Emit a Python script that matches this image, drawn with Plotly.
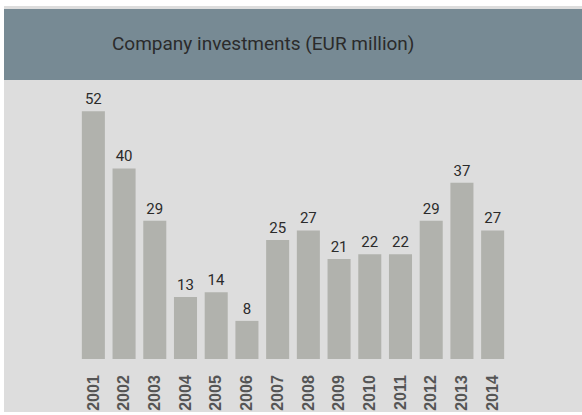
import plotly.graph_objects as go

years = ["2001", "2002", "2003", "2004", "2005", "2006", "2007",
         "2008", "2009", "2010", "2011", "2012", "2013", "2014"]
investments = [52, 40, 29, 13, 14, 8, 25, 27, 21, 22, 22, 29, 37, 27]
title_text = "Company investments (EUR million)"

W, H = 582, 415
L, R, T, B = 78, 74, 97, 56
pw, ph = W - L - R, H - T - B


def px_x(px):
    return (px - L) / pw


def px_y(py):
    return (H - B - py) / ph


COND = "Roboto, Liberation Sans, sans-serif"

fig = go.Figure(go.Bar(
    x=years, y=investments,
    marker=dict(color="#b1b2ad", line=dict(width=0)),
    width=0.75,
    text=[str(v) for v in investments],
    textposition="outside",
    textfont=dict(family=COND, size=15, color="#2b2b2b"),
    cliponaxis=False,
    hoverinfo="skip",
))

fig.update_layout(
    width=W, height=H,
    margin=dict(l=L, r=R, t=T, b=B, autoexpand=False),
    paper_bgcolor="white",
    plot_bgcolor="rgba(0,0,0,0)",
    showlegend=False,
    shapes=[
        dict(type="rect", xref="paper", yref="paper", layer="below",
             x0=px_x(4), x1=px_x(600), y0=px_y(412), y1=px_y(6),
             fillcolor="#dddddd", line=dict(width=0)),
        dict(type="rect", xref="paper", yref="paper", layer="below",
             x0=px_x(4), x1=px_x(600), y0=px_y(80), y1=px_y(9),
             fillcolor="#778a94", line=dict(width=0)),
    ],
    annotations=[
        dict(text=title_text, xref="paper", yref="paper",
             x=px_x(263), y=px_y(44), xanchor="center", yanchor="middle",
             showarrow=False,
             font=dict(family=COND, size=19, color="#2b2b2b")),
    ],
    xaxis=dict(
        type="category", range=[-0.5, 13.5], automargin=False,
        showgrid=False, zeroline=False, showline=False,
        tickangle=-90, ticks="", ticklabelstandoff=12,
        tickfont=dict(family="Liberation Sans, Arial, sans-serif", size=16, color="#555555", weight="bold"),
        fixedrange=True,
    ),
    yaxis=dict(
        range=[0, 55], visible=False, showgrid=False, zeroline=False,
        fixedrange=True, automargin=False,
    ),
)

fig.write_html("out.html", config={"displayModeBar": False},
               post_script="document.body.style.margin='0';document.body.style.overflow='hidden';")
